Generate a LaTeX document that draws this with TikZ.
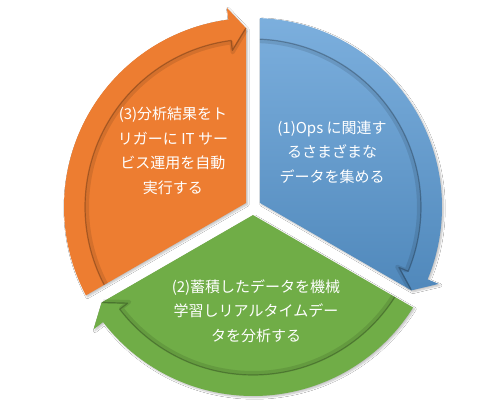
\documentclass[tikz,border=0pt]{standalone}
\usepackage{fontspec}
\newfontfamily\jp{Noto Sans CJK JP}
\usetikzlibrary{shadows.blur}
\definecolor{cOrange}{RGB}{237,125,49}
\definecolor{cBlue}{RGB}{91,155,213}
\definecolor{cGreen}{RGB}{112,173,71}
\tikzset{
  seglabel/.style={text=white, align=center, font=\jp\fontsize{15}{24.5}\selectfont, inner sep=0pt},
  segshadow/.style={blur shadow={shadow xshift=1.5pt, shadow yshift=-1.5pt, shadow blur steps=6, shadow opacity=25}},
}
\begin{document}
\begin{tikzpicture}
\fill[white] (-253pt,-210pt) rectangle (247pt,207pt);
\useasboundingbox (-253pt,-210pt) rectangle (247pt,207pt);
\foreach \s/\topc/\botc in {90/cBlue!80!white/cBlue!88!black, -30/cGreen/cGreen, 210/cOrange/cOrange}{
  \pgfmathsetmacro\e{\s-120}
  \pgfmathsetmacro\k{\s-60}
  \pgfmathsetmacro\sa{\s-2.12}
  \pgfmathsetmacro\si{\s-2.39}
  \pgfmathsetmacro\eb{\e+7.5}
  \pgfmathsetmacro\et{\e+2.24}
  \path[segshadow, top color=\topc, bottom color=\botc]
    (\k:8.08pt) -- (\sa:189pt) arc[start angle=\sa, end angle=\eb, radius=189pt]
    -- (\eb:201pt) -- (\et:179pt) -- cycle;
  \draw[black, opacity=0.10, line width=4pt, line join=round]
    (\si:166pt) arc[start angle=\si, end angle=\eb, radius=166pt] -- (\eb:156pt) -- (\et:177pt);
  \draw[black, opacity=0.25, line width=1.2pt, line join=round]
    (\si:168pt) arc[start angle=\si, end angle=\eb, radius=168pt] -- (\eb:158pt) -- (\et:179pt);
}
\node[seglabel] (t1) at (79pt,55pt) {(1)Ops に関連す\\るさまざまな\\データを集める};
\node[seglabel] (t2) at (3pt,-104pt) {(2)蓄積したデータを機械\\学習しリアルタイムデー\\タを分析する};
\node[seglabel] (t3) at (-80pt,56pt) {(3)分析結果をト\\リガーに IT サー\\ビス運用を自動\\実行する};
\end{tikzpicture}
\end{document}
